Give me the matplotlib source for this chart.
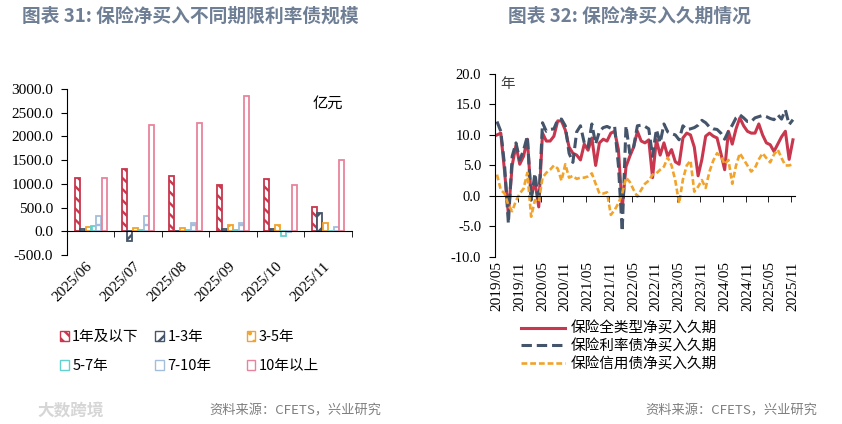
import matplotlib
matplotlib.use('Agg')
import matplotlib.pyplot as plt
import matplotlib.patches as mpatches
import numpy as np
import pandas as pd

# ---- data: chart 31 (亿元) ----
bar_months = ['2025/06', '2025/07', '2025/08', '2025/09', '2025/10', '2025/11']
bar_names = ['1年及以下', '1-3年', '3-5年', '5-7年', '7-10年', '10年以上']
net_1y = [1113, 1303, 1155, 965, 1092, 521]
net_1_3y = [56, -197, 14, 56, 56, 394]
net_3_5y = [99, 77, 77, 141, 141, 183]
net_5_7y = [120, 20, 20, 20, -106, 14]
net_7_10y = [331, 331, 183, 183, -21, 99]
net_10y = [1113, 2232, 2275, 2852, 965, 1500]

# ---- data: chart 32 (年), monthly 2019/05 - 2025/11 ----
line_names = ['保险全类型净买入久期', '保险利率债净买入久期', '保险信用债净买入久期']
dur_all = [10.0, 10.3, 4.0, -3.0, 5.0, 8.3, 5.2, 6.5, 9.3, 0.0,
           2.3, -1.8, 10.3, 9.0, 9.0, 9.8, 12.3, 12.3, 10.8, 8.0,
           7.0, 6.7, 5.9, 8.5, 7.5, 9.5, 5.0, 8.7, 9.3, 9.0,
           10.3, 10.6, 7.6, -2.0, 4.8, 6.5, 8.0, 10.6, 9.0, 8.7,
           9.2, 3.0, 9.2, 6.7, 8.7, 6.5, 7.6, 5.6, 5.2, 9.5,
           10.3, 10.0, 8.0, 3.3, 6.0, 9.8, 10.3, 9.8, 9.5, 7.0,
           4.3, 10.6, 8.5, 11.0, 12.8, 11.5, 10.6, 10.3, 10.3, 11.8,
           10.0, 8.7, 8.4, 7.3, 8.5, 9.7, 10.6, 6.0, 9.2]
dur_rate = [12.2, 10.6, 5.0, -4.5, 6.5, 8.7, 5.9, 7.5, 9.8, -0.7,
            3.7, -1.2, 12.0, 10.6, 10.9, 11.0, 12.5, 12.6, 11.5, 7.0,
            5.5, 10.5, 11.5, 8.7, 8.0, 11.8, 8.5, 10.6, 11.2, 11.4,
            11.1, 11.4, 5.0, -5.8, 11.5, 7.0, 8.0, 11.5, 11.6, 11.4,
            11.0, 6.5, 10.9, 8.7, 11.8, 10.5, 10.2, 10.0, 9.2, 11.5,
            10.9, 11.0, 11.2, 11.6, 12.4, 12.0, 11.3, 11.0, 10.9, 10.3,
            9.3, 10.6, 11.6, 12.8, 13.3, 12.8, 12.2, 12.2, 12.8, 13.0,
            13.2, 13.0, 12.7, 12.5, 13.3, 12.6, 14.1, 11.7, 12.5]
dur_credit = [3.5, 1.0, 0.4, -1.5, -2.5, -0.8, 0.4, 1.2, 3.8, -3.4,
              -0.7, -1.0, 3.0, 3.8, 4.3, 5.0, 4.5, 2.5, 5.2, 3.0,
              3.3, 2.8, 3.0, 3.0, 3.2, 3.7, 2.0, 0.4, 0.4, 0.6,
              -3.1, -2.3, -1.2, 0.4, 3.0, 2.3, 1.0, -0.1, 1.0, 2.0,
              2.5, 3.5, 3.7, 4.3, 4.8, 6.3, 5.0, 2.5, -1.2, 2.7,
              5.0, 5.8, 0.7, 1.5, 2.6, 1.3, 4.0, 5.8, 7.0, 6.5,
              5.2, 5.9, 2.0, 5.0, 7.0, 6.0, 5.0, 4.0, 4.6, 6.0,
              7.0, 6.2, 5.5, 6.8, 7.6, 6.2, 5.0, 5.0, 5.2]
line_months = pd.period_range('2019-05', '2025-11', freq='M').strftime('%Y/%m').tolist()

CJK = ['Noto Sans CJK SC', 'DejaVu Sans']
SERIF = 'Liberation Serif'
plt.rcParams['font.family'] = CJK
plt.rcParams['hatch.linewidth'] = 1.7

RED = '#c8374d'
NAVY = '#44546a'
ORANGE = '#f2a32c'
TEAL = '#63d1d0'
LBLUE = '#a3bedc'
PINK = '#e9839c'
TITLE_C = '#6e7e94'

fig = plt.figure(figsize=(8.42, 4.24), dpi=100)

# ================= chart 31 =================
ax1 = fig.add_axes([0.0796, 0.3986, 0.338, 0.392])
bar_series = [net_1y, net_1_3y, net_3_5y, net_5_7y, net_7_10y, net_10y]
bar_styles = [
    dict(edgecolor=RED, hatch='\\\\\\'),
    dict(edgecolor=NAVY, hatch='//'),
    dict(edgecolor=ORANGE, hatch='..'),
    dict(edgecolor=TEAL, hatch='+'),
    dict(edgecolor=LBLUE, hatch='-'),
    dict(edgecolor=PINK, hatch=None),
]
x = np.arange(len(bar_months))
pitch = 0.115
handles1 = []
for i, (vals, st) in enumerate(zip(bar_series, bar_styles)):
    ax1.bar(x + (i - 2.5) * pitch, vals, width=0.105, facecolor='white',
            linewidth=1.3, **st)
    handles1.append(mpatches.Patch(facecolor='white', linewidth=1.0,
                                   label=bar_names[i], **st))

ax1.set_xlim(-0.5, 5.5)
ax1.set_ylim(-500, 3000)
yt = np.arange(-500, 3001, 500)
ax1.set_yticks(yt)
ax1.set_yticklabels([f'{v:.1f}' for v in yt], fontfamily=SERIF, fontsize=11)
ax1.spines['top'].set_visible(False)
ax1.spines['right'].set_visible(False)
ax1.spines['bottom'].set_position(('data', 0))
ax1.set_xticks(x)
ax1.set_xticks(np.arange(0.5, 5.6, 1.0), minor=True)
ax1.set_xticklabels(bar_months, rotation=45, ha='right', va='center',
                    rotation_mode='anchor', fontfamily=SERIF, fontsize=11)
ax1.tick_params(axis='x', which='major', length=0, pad=24)
ax1.tick_params(axis='x', which='minor', length=4, direction='out')
ax1.tick_params(axis='y', length=4, direction='out', pad=6)
ax1.text(0.915, 0.915, '亿元', transform=ax1.transAxes, ha='center',
         va='center', fontsize=11)

# legend in three columns
col_x = [0.071, 0.184, 0.293]
for c in range(3):
    fig.legend(handles=[handles1[c], handles1[c + 3]], loc='upper left',
               bbox_to_anchor=(col_x[c], 0.222), frameon=False,
               fontsize=10.5, handlelength=0.6, handleheight=0.7,
               handletextpad=0.25, labelspacing=1.05, borderpad=0,
               borderaxespad=0)

# ================= chart 32 =================
ax2 = fig.add_axes([0.588, 0.394, 0.356, 0.4316])
mx = np.arange(len(line_months))
l1, = ax2.plot(mx, dur_all, color=RED, lw=2.2, label=line_names[0])
l2, = ax2.plot(mx, dur_rate, color=NAVY, lw=2.2, dashes=(3.4, 1.6),
               label=line_names[1])
l3, = ax2.plot(mx, dur_credit, color=ORANGE, lw=1.9, dashes=(2.2, 1.1),
               label=line_names[2])
ax2.set_xlim(-0.5, 78.5)
ax2.set_ylim(-10, 20)
yt2 = np.arange(-10, 20.1, 5)
ax2.set_yticks(yt2)
ax2.set_yticklabels([f'{v:.1f}' for v in yt2], fontfamily=SERIF, fontsize=10.5)
ax2.spines['top'].set_visible(False)
ax2.spines['right'].set_visible(False)
ax2.spines['bottom'].set_position(('data', 0))
ax2.set_xticks(mx[::6])
ax2.set_xticks(mx[6::6] - 0.5, minor=True)
ax2.set_xticklabels(line_months[::6], rotation=90, fontfamily=SERIF,
                    fontsize=11, va='top', ha='center')
ax2.tick_params(axis='x', which='major', length=0, pad=47)
ax2.tick_params(axis='x', which='minor', length=4, direction='out')
ax2.tick_params(axis='y', length=4, direction='out', pad=6)
ax2.text(0.018, 0.945, '年', transform=ax2.transAxes, ha='left', va='center',
         fontsize=10.5, color='#404040')

fig.legend(handles=[l1, l2, l3], loc='upper left', bbox_to_anchor=(0.619, 0.242),
           frameon=False, fontsize=10.5, handlelength=3.0, handletextpad=0.4,
           labelspacing=0.25, borderpad=0, borderaxespad=0)

# ================= titles / notes =================
fig.text(0.026, 0.962, '图表 31: 保险净买入不同期限利率债规模', fontsize=13.5,
         fontweight='bold', color=TITLE_C, va='center', ha='left')
fig.text(0.603, 0.962, '图表 32: 保险净买入久期情况', fontsize=13.5,
         fontweight='bold', color=TITLE_C, va='center', ha='left')
fig.text(0.249, 0.031, '资料来源：CFETS，兴业研究', fontsize=9.5,
         color='#7f7f7f', va='center', ha='left')
fig.text(0.766, 0.031, '资料来源：CFETS，兴业研究', fontsize=9.5,
         color='#7f7f7f', va='center', ha='left')
fig.text(0.045, 0.031, '大数跨境', fontsize=12, color='#d6d6d6',
         va='center', ha='left', fontweight='bold')

fig.savefig('out.png', dpi=100)
